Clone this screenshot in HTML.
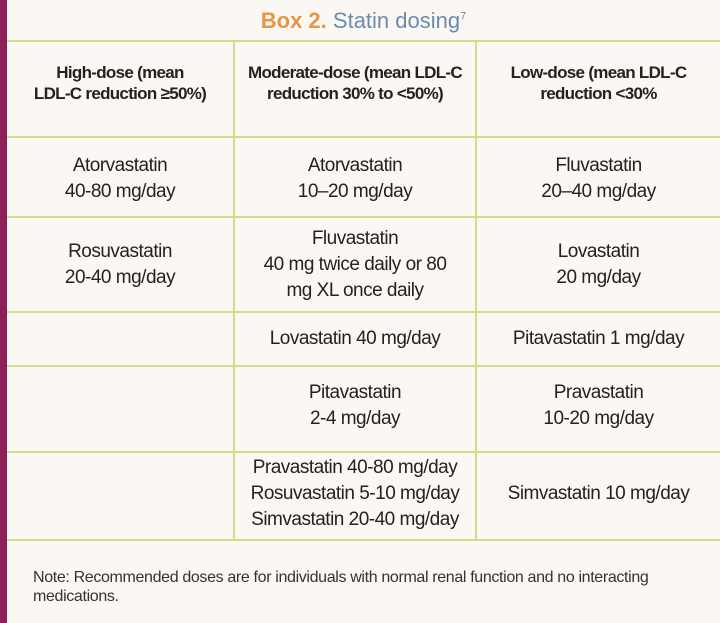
<!DOCTYPE html><html><head><style>
body{margin:0;width:720px;height:623px;background:#fbf8f3;position:relative;overflow:hidden;font-family:"Liberation Sans",sans-serif;}
.bar{position:absolute;left:0;top:0;width:7px;height:623px;background:#8e1f5a}
.h{position:absolute;left:7px;right:0;height:2px;background:#d4dc8c}
.v{position:absolute;top:40px;height:500px;width:2px;background:#d4dc8c}
.t{position:absolute;text-align:center;font-size:19px;color:#222;line-height:26px;letter-spacing:-0.5px;white-space:nowrap}
.hd{font-weight:bold;font-size:17px;line-height:21px;letter-spacing:-0.7px}
</style></head><body>
<div class="bar"></div>
<div style="position:absolute;top:8px;left:7px;right:0;text-align:center;font-size:22px"><b style="color:#e8954a">Box 2.</b> <span style="color:#6a8bb0">Statin dosing<sup style="font-size:11px">7</sup></span></div>
<div class="h" style="top:40px"></div><div class="h" style="top:136px"></div><div class="h" style="top:216px"></div><div class="h" style="top:311px"></div><div class="h" style="top:365px"></div><div class="h" style="top:451px"></div><div class="h" style="top:539px"></div>
<div class="v" style="left:233px"></div><div class="v" style="left:475px"></div>
<div class="t hd" style="left:7px;width:226px;top:62px">High-dose (mean<br>LDL-C reduction ≥50%)</div>
<div class="t hd" style="left:235px;width:240px;top:62px">Moderate-dose (mean LDL-C<br>reduction 30% to &lt;50%)</div>
<div class="t hd" style="left:477px;width:243px;top:62px">Low-dose (mean LDL-C<br>reduction &lt;30%</div>
<div class="t" style="left:7px;width:226px;top:153px">Atorvastatin<br>40-80 mg/day</div>
<div class="t" style="left:235px;width:240px;top:153px">Atorvastatin<br>10–20 mg/day</div>
<div class="t" style="left:477px;width:243px;top:153px">Fluvastatin<br>20–40 mg/day</div>
<div class="t" style="left:7px;width:226px;top:239px">Rosuvastatin<br>20-40 mg/day</div>
<div class="t" style="left:235px;width:240px;top:226px">Fluvastatin<br>40 mg twice daily or 80<br>mg XL once daily</div>
<div class="t" style="left:477px;width:243px;top:239px">Lovastatin<br>20 mg/day</div>
<div class="t" style="left:235px;width:240px;top:326px">Lovastatin 40 mg/day</div>
<div class="t" style="left:477px;width:243px;top:326px">Pitavastatin 1 mg/day</div>
<div class="t" style="left:235px;width:240px;top:380px">Pitavastatin<br>2-4 mg/day</div>
<div class="t" style="left:477px;width:243px;top:380px">Pravastatin<br>10-20 mg/day</div>
<div class="t" style="left:235px;width:240px;top:455px">Pravastatin 40-80 mg/day<br>Rosuvastatin 5-10 mg/day<br>Simvastatin 20-40 mg/day</div>
<div class="t" style="left:477px;width:243px;top:481px">Simvastatin 10 mg/day</div>
<div style="position:absolute;left:33px;top:568px;font-size:16px;line-height:19px;color:#333;letter-spacing:-0.35px;white-space:nowrap">Note: Recommended doses are for individuals with normal renal function and no interacting<br>medications.</div>
</body></html>
